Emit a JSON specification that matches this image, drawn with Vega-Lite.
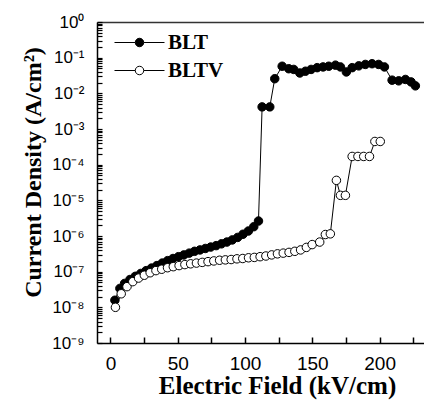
{
  "$schema": "https://vega.github.io/schema/vega-lite/v6.json",
  "autosize": {"type": "none"},
  "padding": {"left": 97, "top": 22, "right": 0, "bottom": 59},
  "width": 327,
  "height": 321,
  "background": "white",
  "config": {"view": {"stroke": null}},
  "datasets": {
    "pts": [
      {"series": "BLT", "field": 3.3, "J": 1.58e-8},
      {"series": "BLT", "field": 7.0, "J": 3.39e-8},
      {"series": "BLT", "field": 10.5, "J": 4.68e-8},
      {"series": "BLT", "field": 14.5, "J": 6.03e-8},
      {"series": "BLT", "field": 18.5, "J": 7.41e-8},
      {"series": "BLT", "field": 22.5, "J": 8.91e-8},
      {"series": "BLT", "field": 26.5, "J": 1.07e-7},
      {"series": "BLT", "field": 30.5, "J": 1.26e-7},
      {"series": "BLT", "field": 34.5, "J": 1.48e-7},
      {"series": "BLT", "field": 38.5, "J": 1.74e-7},
      {"series": "BLT", "field": 42.5, "J": 2.04e-7},
      {"series": "BLT", "field": 46.5, "J": 2.34e-7},
      {"series": "BLT", "field": 50.5, "J": 2.63e-7},
      {"series": "BLT", "field": 54.5, "J": 2.95e-7},
      {"series": "BLT", "field": 58.5, "J": 3.31e-7},
      {"series": "BLT", "field": 62.5, "J": 3.72e-7},
      {"series": "BLT", "field": 66.5, "J": 4.07e-7},
      {"series": "BLT", "field": 70.5, "J": 4.47e-7},
      {"series": "BLT", "field": 74.5, "J": 4.90e-7},
      {"series": "BLT", "field": 78.5, "J": 5.37e-7},
      {"series": "BLT", "field": 82.5, "J": 6.03e-7},
      {"series": "BLT", "field": 86.5, "J": 6.76e-7},
      {"series": "BLT", "field": 90.5, "J": 7.76e-7},
      {"series": "BLT", "field": 94.5, "J": 9.12e-7},
      {"series": "BLT", "field": 98.5, "J": 1.12e-6},
      {"series": "BLT", "field": 102.5, "J": 1.38e-6},
      {"series": "BLT", "field": 106.5, "J": 1.82e-6},
      {"series": "BLT", "field": 110.0, "J": 2.63e-6},
      {"series": "BLT", "field": 112.7, "J": 4.17e-3},
      {"series": "BLT", "field": 118.4, "J": 4.17e-3},
      {"series": "BLT", "field": 122.1, "J": 2.57e-2},
      {"series": "BLT", "field": 127.6, "J": 5.75e-2},
      {"series": "BLT", "field": 132.5, "J": 4.90e-2},
      {"series": "BLT", "field": 136.2, "J": 4.68e-2},
      {"series": "BLT", "field": 140.7, "J": 3.72e-2},
      {"series": "BLT", "field": 144.9, "J": 4.17e-2},
      {"series": "BLT", "field": 149.1, "J": 4.68e-2},
      {"series": "BLT", "field": 153.6, "J": 5.25e-2},
      {"series": "BLT", "field": 158.0, "J": 5.50e-2},
      {"series": "BLT", "field": 162.2, "J": 5.75e-2},
      {"series": "BLT", "field": 167.2, "J": 6.17e-2},
      {"series": "BLT", "field": 170.9, "J": 5.50e-2},
      {"series": "BLT", "field": 175.3, "J": 3.98e-2},
      {"series": "BLT", "field": 179.6, "J": 5.25e-2},
      {"series": "BLT", "field": 184.5, "J": 5.89e-2},
      {"series": "BLT", "field": 189.4, "J": 6.46e-2},
      {"series": "BLT", "field": 194.4, "J": 6.76e-2},
      {"series": "BLT", "field": 199.3, "J": 6.46e-2},
      {"series": "BLT", "field": 203.6, "J": 5.50e-2},
      {"series": "BLT", "field": 209.3, "J": 2.34e-2},
      {"series": "BLT", "field": 214.2, "J": 2.24e-2},
      {"series": "BLT", "field": 219.2, "J": 2.45e-2},
      {"series": "BLT", "field": 223.4, "J": 2.09e-2},
      {"series": "BLT", "field": 226.6, "J": 1.62e-2},
      {"series": "BLTV", "field": 3.7, "J": 1.00e-8},
      {"series": "BLTV", "field": 8.0, "J": 2.40e-8},
      {"series": "BLTV", "field": 12.3, "J": 3.80e-8},
      {"series": "BLTV", "field": 16.6, "J": 5.25e-8},
      {"series": "BLTV", "field": 20.9, "J": 6.61e-8},
      {"series": "BLTV", "field": 25.2, "J": 7.94e-8},
      {"series": "BLTV", "field": 29.5, "J": 9.33e-8},
      {"series": "BLTV", "field": 33.8, "J": 1.07e-7},
      {"series": "BLTV", "field": 38.1, "J": 1.17e-7},
      {"series": "BLTV", "field": 42.4, "J": 1.29e-7},
      {"series": "BLTV", "field": 46.7, "J": 1.38e-7},
      {"series": "BLTV", "field": 51.0, "J": 1.48e-7},
      {"series": "BLTV", "field": 55.3, "J": 1.58e-7},
      {"series": "BLTV", "field": 59.6, "J": 1.66e-7},
      {"series": "BLTV", "field": 63.9, "J": 1.74e-7},
      {"series": "BLTV", "field": 68.2, "J": 1.82e-7},
      {"series": "BLTV", "field": 72.5, "J": 1.91e-7},
      {"series": "BLTV", "field": 76.8, "J": 2.00e-7},
      {"series": "BLTV", "field": 81.1, "J": 2.09e-7},
      {"series": "BLTV", "field": 85.4, "J": 2.14e-7},
      {"series": "BLTV", "field": 89.7, "J": 2.19e-7},
      {"series": "BLTV", "field": 94.0, "J": 2.29e-7},
      {"series": "BLTV", "field": 98.3, "J": 2.34e-7},
      {"series": "BLTV", "field": 102.6, "J": 2.45e-7},
      {"series": "BLTV", "field": 106.9, "J": 2.51e-7},
      {"series": "BLTV", "field": 111.2, "J": 2.63e-7},
      {"series": "BLTV", "field": 115.5, "J": 2.75e-7},
      {"series": "BLTV", "field": 119.8, "J": 2.95e-7},
      {"series": "BLTV", "field": 124.1, "J": 3.16e-7},
      {"series": "BLTV", "field": 128.4, "J": 3.31e-7},
      {"series": "BLTV", "field": 132.7, "J": 3.47e-7},
      {"series": "BLTV", "field": 137.0, "J": 3.72e-7},
      {"series": "BLTV", "field": 141.3, "J": 4.07e-7},
      {"series": "BLTV", "field": 145.6, "J": 4.79e-7},
      {"series": "BLTV", "field": 149.9, "J": 5.75e-7},
      {"series": "BLTV", "field": 155.5, "J": 6.76e-7},
      {"series": "BLTV", "field": 159.7, "J": 1.10e-6},
      {"series": "BLTV", "field": 163.4, "J": 1.15e-6},
      {"series": "BLTV", "field": 167.9, "J": 3.63e-5},
      {"series": "BLTV", "field": 170.9, "J": 1.38e-5},
      {"series": "BLTV", "field": 174.6, "J": 1.38e-5},
      {"series": "BLTV", "field": 179.6, "J": 1.70e-4},
      {"series": "BLTV", "field": 183.9, "J": 1.70e-4},
      {"series": "BLTV", "field": 188.2, "J": 1.70e-4},
      {"series": "BLTV", "field": 192.5, "J": 1.70e-4},
      {"series": "BLTV", "field": 196.5, "J": 4.47e-4},
      {"series": "BLTV", "field": 200.5, "J": 4.47e-4}
    ]
  },
  "data": {"name": "pts"},
  "layer": [
    {
      "mark": {"type": "line", "color": "black", "strokeWidth": 1},
      "encoding": {
        "x": {
          "field": "field", "type": "quantitative",
          "scale": {"domain": [-10, 233], "nice": false, "zero": false},
          "axis": {
            "orient": "bottom",
            "zindex": 1,
            "grid": false,
            "values": [0, 25, 50, 75, 100, 125, 150, 175, 200, 225],
            "labelExpr": "datum.value % 50 == 0 ? datum.label : ''",
            "ticks": true,
            "tickSize": -6,
            "tickColor": "#000000", "tickWidth": 1.5,
            "domainColor": "black", "domainWidth": 1.5,
            "labelFont": "Liberation Sans", "labelFontSize": 19, "labelColor": "black",
            "labelPadding": 17, "labelFlush": false,
            "title": "Electric Field (kV/cm)",
            "titleFont": "Liberation Serif", "titleFontSize": 25, "titleFontWeight": "bold", "titleColor": "black",
            "titleX": 180, "titlePadding": 0
          }
        },
        "y": {
          "field": "J", "type": "quantitative",
          "scale": {"type": "log", "domain": [1e-9, 1], "nice": false},
          "axis": {
            "orient": "left",
            "zindex": 1,
            "grid": false,
            "values": [1e-9,2e-9,3e-9,4e-9,5e-9,6e-9,7e-9,8e-9,9e-9,1e-8,2e-8,3e-8,4e-8,5e-8,6e-8,7e-8,8e-8,9e-8,1e-7,2e-7,3e-7,4e-7,5e-7,6e-7,7e-7,8e-7,9e-7,1e-6,2e-6,3e-6,4e-6,5e-6,6e-6,7e-6,8e-6,9e-6,1e-5,2e-5,3e-5,4e-5,5e-5,6e-5,7e-5,8e-5,9e-5,1e-4,2e-4,3e-4,4e-4,5e-4,6e-4,7e-4,8e-4,9e-4,1e-3,2e-3,3e-3,4e-3,5e-3,6e-3,7e-3,8e-3,9e-3,1e-2,2e-2,3e-2,4e-2,5e-2,6e-2,7e-2,8e-2,9e-2,0.1,0.2,0.3,0.4,0.5,0.6,0.7,0.8,0.9,1],
            "labelExpr": "abs(log(datum.value)/LN10 - round(log(datum.value)/LN10)) < 0.001 ? ['10⁰','10⁻¹','10⁻²','10⁻³','10⁻⁴','10⁻⁵','10⁻⁶','10⁻⁷','10⁻⁸','10⁻⁹'][-round(log(datum.value)/LN10)] : ''",
            "ticks": true,
            "tickSize": -5,
            "tickColor": "#000000", "tickWidth": 1.2,
            "domainColor": "black", "domainWidth": 1.5,
            "labelFont": "Liberation Sans", "labelFontSize": 17, "labelColor": "black",
            "labelPadding": 18, "labelFlush": false, "labelOverlap": false,
            "title": "Current Density (A/cm²)",
            "titleFont": "Liberation Serif", "titleFontSize": 24, "titleFontWeight": "bold", "titleColor": "black",
            "titleY": 150, "titlePadding": 6
          }
        },
        "detail": {"field": "series"}
      }
    },
    {
      "mark": {"type": "point", "shape": "circle", "filled": true, "size": 72, "stroke": "black", "strokeWidth": 1, "opacity": 1},
      "encoding": {
        "x": {"field": "field", "type": "quantitative",
          "axis": {"orient": "top", "labels": false, "tickSize": 0, "title": null, "grid": false, "domainColor": "#333333", "domainWidth": 1.5}},
        "y": {"field": "J", "type": "quantitative"},
        "fill": {
          "field": "series", "type": "nominal",
          "scale": {"domain": ["BLT", "BLTV"], "range": ["black", "white"]},
          "legend": {
            "orient": "none", "legendX": 32, "legendY": 10,
            "title": null, "padding": 0,
            "symbolType": "M-5,0H-0.85M0.85,0H5M-0.85,0A0.85,0.85 0 1,0 0.85,0A0.85,0.85 0 1,0 -0.85,0",
            "symbolSize": 100, "symbolStrokeColor": "black", "symbolStrokeWidth": 1,
            "labelFont": "Liberation Serif", "labelFontSize": 21, "labelFontWeight": "bold", "labelColor": "black",
            "labelOffset": 18, "rowPadding": 6
          }
        }
      }
    }
  ],
  "resolve": {"axis": {"x": "independent"}}
}
